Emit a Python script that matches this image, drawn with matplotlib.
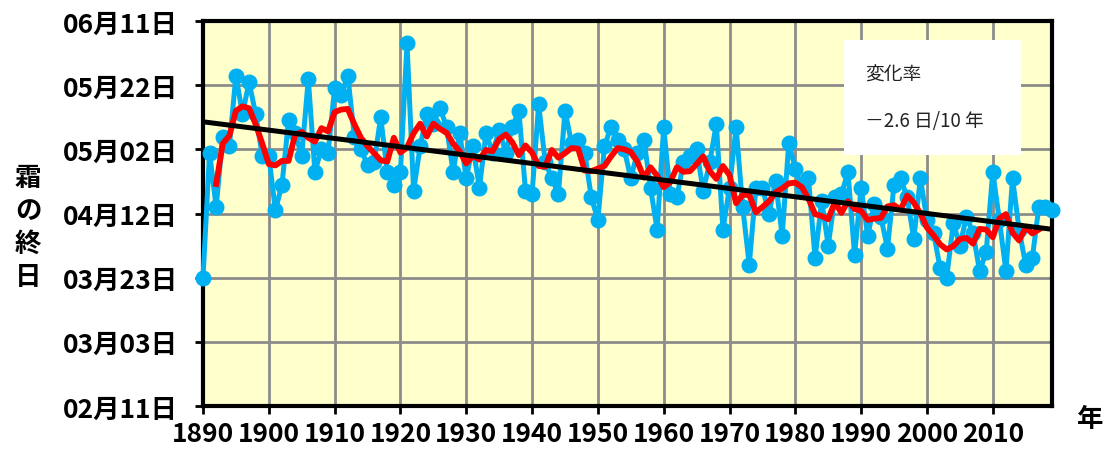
"""
Last-frost day (霜の終日) time series with 5-year running mean and linear trend.
"""

import numpy as np
import pandas as pd
import matplotlib
matplotlib.use("Agg")
import matplotlib.pyplot as plt
import matplotlib.patches as mpatches

plt.rcParams['font.family'] = ['Noto Sans CJK JP', 'DejaVu Sans']

# Data: day of year (non-leap) of the last frost, 1890-2019
years = np.arange(1890, 2020)
last_frost_doy = [
    82, 121, 104, 126, 123, 145, 133, 143, 133, 120,   # 1890s
    120, 103, 111, 131, 127, 120, 144, 115, 122, 121,  # 1900s
    141, 139, 145, 126, 122, 117, 118, 132, 115, 111,  # 1910s
    115, 155, 109, 123, 133, 130, 135, 129, 115, 127,  # 1920s
    113, 123, 110, 127, 121, 128, 121, 129, 134, 109,  # 1930s
    108, 136, 118, 113, 108, 134, 124, 125, 121, 107,  # 1940s
    100, 123, 129, 125, 122, 113, 121, 125, 110, 97,   # 1950s
    129, 108, 107, 118, 120, 122, 109, 118, 130, 97,   # 1960s
    110, 129, 104, 86, 110, 110, 102, 112, 95, 124,    # 1970s
    116, 110, 113, 88, 106, 92, 107, 108, 115, 89,     # 1980s
    110, 95, 105, 101, 91, 111, 113, 107, 94, 113,     # 1990s
    100, 96, 85, 82, 99, 92, 101, 96, 84, 90,          # 2000s
    115, 100, 84, 113, 97, 86, 88, 104, 104, 103,      # 2010s
]

ytick_doy = [42, 62, 82, 102, 122, 142, 162]
ytick_labels = ['02月11日', '03月03日', '03月23日', '04月12日',
                '05月02日', '05月22日', '06月11日']
xtick_years = list(range(1890, 2011, 10))
box_lines = ['変化率', '－2.6 日/10 年']

BLUE = '#00B0F0'
RED = '#FF0000'
GRID = '#8C8C8C'
PLOT_BG = '#FFFFCC'


def main():
    doy = np.array(last_frost_doy, dtype=float)
    run5 = pd.Series(doy).rolling(5, center=True).mean().to_numpy()
    slope, icpt = np.polyfit(years, doy, 1)
    xfit = np.array([years[0], years[-1]])

    fig = plt.figure(figsize=(11.13, 4.52), dpi=100)
    W, H = 1113, 452
    ax = fig.add_axes([203 / W, 1 - 407 / H, (1052 - 203) / W, (407 - 22) / H])
    ax.set_facecolor(PLOT_BG)

    ax.plot(years, doy, color=BLUE, lw=3.6, marker='o', ms=10.5,
            mec=BLUE, mfc=BLUE, zorder=3, clip_on=False)
    ax.plot(years, run5, color=RED, lw=4.2, zorder=4)
    ax.plot(xfit, slope * xfit + icpt, color='black', lw=3.6, zorder=5)

    ax.set_xlim(1890, 2019)
    ax.set_ylim(42, 162)
    ax.set_xticks(xtick_years)
    ax.set_xticklabels([str(y) for y in xtick_years], fontsize=19,
                       fontweight='bold')
    ax.set_yticks(ytick_doy)
    ax.set_yticklabels(ytick_labels, fontsize=19, fontweight='bold')

    ax.set_axisbelow(True)
    ax.grid(True, color=GRID, lw=2.0)
    for sp in ax.spines.values():
        sp.set_linewidth(3.0)
        sp.set_color('black')
    ax.tick_params(axis='y', length=6, width=2.0, pad=12)
    ax.tick_params(axis='x', length=6, width=2.0, pad=4)

    # slope annotation box
    ax.add_patch(mpatches.Rectangle(
        ((844 - 203) / 849, (407 - 156) / 385), 177 / 849, 115 / 385,
        transform=ax.transAxes, facecolor='white', edgecolor='none',
        zorder=6))
    ax.text((865 - 203) / 849, (407 - 75) / 385, box_lines[0],
            transform=ax.transAxes, fontsize=13.5, va='center', ha='left',
            color='#222222', zorder=7)
    ax.text((865 - 203) / 849, (407 - 121) / 385, box_lines[1],
            transform=ax.transAxes, fontsize=13.5, va='center', ha='left',
            color='#222222', zorder=7)

    fig.text(28 / W, 1 - 228 / H, '霜\nの\n終\n日', fontsize=19,
             fontweight='bold', ha='center', va='center', linespacing=1.3)
    fig.text(1090 / W, 1 - 420 / H, '年', fontsize=19, fontweight='bold',
             ha='center', va='center')

    fig.savefig('out.png', dpi=100)
    plt.close(fig)


if __name__ == '__main__':
    main()
